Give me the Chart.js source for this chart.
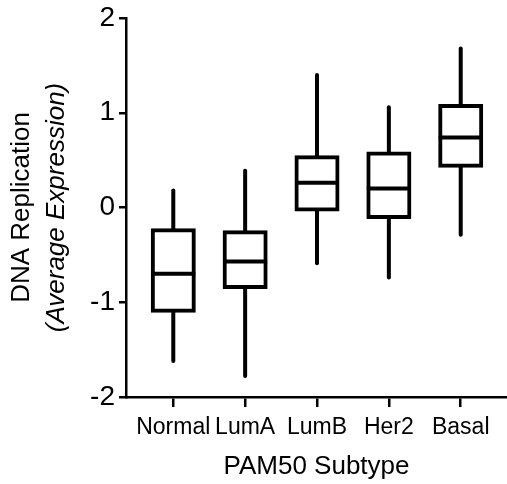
<!DOCTYPE html>
<html>
<head>
<meta charset="utf-8">
<script src="https://cdn.jsdelivr.net/npm/chart.js@4.4.0/dist/chart.umd.min.js"></script>
<style>
    html, body { margin: 0; padding: 0; background: #fff; }
    #wrap { width: 507px; height: 484px; }
</style>
</head>
<body>
<div id="wrap"><canvas id="boxChart"></canvas></div>
<script>
// Du lieu box plot
const subtypes = ['Normal', 'LumA', 'LumB', 'Her2', 'Basal'];
const whiskerLow = [-1.64, -1.80, -0.61, -0.76, -0.31];
const boxLow = [-1.09, -0.84, -0.02, -0.10, 0.44];
const medians = [-0.70, -0.57, 0.26, 0.20, 0.74];
const boxHigh = [-0.24, -0.26, 0.53, 0.57, 1.07];
const whiskerHigh = [0.20, 0.41, 1.42, 1.08, 1.70];
const yTicks = [-2, -1, 0, 1, 2];

const FONT = "'Liberation Sans', Arial, sans-serif";

const ctx = document.getElementById('boxChart').getContext('2d');

new Chart(ctx, {
    type: 'bar',
    data: {
        datasets: [
            {
                // trung vi
                type: 'line',
                data: subtypes.map((s, i) => ({ x: i + 1, y: medians[i] })),
                showLine: false,
                pointStyle: 'line',
                pointRadius: 22,
                pointBorderWidth: 4,
                pointBorderColor: '#000',
                clip: false,
                order: 0
            },
            {
                // hop Q1 - Q3
                data: subtypes.map((s, i) => ({ x: i + 1, y: [boxLow[i], boxHigh[i]] })),
                backgroundColor: '#fff',
                borderColor: '#000',
                borderWidth: 4,
                borderSkipped: false,
                barThickness: 41,
                inflateAmount: 2,
                stack: 'box',
                order: 1
            },
            {
                // rau (min - max)
                data: subtypes.map((s, i) => ({ x: i + 1, y: [whiskerLow[i], whiskerHigh[i]] })),
                backgroundColor: '#000',
                borderWidth: 0,
                borderSkipped: false,
                borderRadius: 2,
                barThickness: 4,
                inflateAmount: 0,
                stack: 'box',
                order: 2
            }
        ]
    },
    options: {
        responsive: true,
        maintainAspectRatio: false,
        animation: false,
        layout: {
            autoPadding: false,
            padding: { top: 15, right: 0, bottom: 0, left: 0 }
        },
        plugins: {
            legend: { display: false },
            tooltip: { enabled: false }
        },
        scales: {
            x: {
                type: 'linear',
                min: 0.342,
                max: 5.644,
                offset: false,
                afterBuildTicks: (scale) => {
                    scale.ticks = subtypes.map((s, i) => ({ value: i + 1 }));
                },
                afterFit: (scale) => { scale.height = 87; },
                ticks: {
                    color: '#000',
                    padding: 7,
                    maxRotation: 0,
                    autoSkip: false,
                    font: { family: FONT, size: 23 },
                    callback: (v) => subtypes[v - 1] || ''
                },
                grid: {
                    display: true,
                    offset: false,
                    drawOnChartArea: false,
                    tickLength: 10,
                    color: '#000',
                    lineWidth: 2.5
                },
                border: { display: true, color: '#000', width: 2.5 },
                title: {
                    display: true,
                    text: 'PAM50 Subtype',
                    color: '#000',
                    font: { family: FONT, size: 26 },
                    padding: { top: 0, bottom: 2 }
                }
            },
            y: {
                min: -2,
                max: 2,
                stacked: false,
                afterBuildTicks: (scale) => {
                    scale.ticks = yTicks.map(v => ({ value: v }));
                },
                afterFit: (scale) => { scale.width = 86; },
                ticks: {
                    color: '#000',
                    padding: 4,
                    font: { family: FONT, size: 28, lineHeight: 1 }
                },
                grid: {
                    display: true,
                    drawOnChartArea: false,
                    tickLength: 7,
                    color: '#000',
                    lineWidth: 2.5
                },
                border: { display: true, color: '#000', width: 2.5 },
                title: {
                    display: true,
                    text: '(Average Expression)',
                    color: '#000',
                    font: { family: FONT, size: 26, style: 'italic' },
                    padding: { top: 1, bottom: 0 }
                }
            },
            // truc phu chi de ve dong tieu de thu nhat
            yTitle: {
                type: 'linear',
                position: 'left',
                weight: 10,
                afterFit: (scale) => { scale.width = 40; },
                ticks: { display: false },
                grid: { display: false },
                border: { display: false },
                title: {
                    display: true,
                    text: 'DNA Replication',
                    color: '#000',
                    font: { family: FONT, size: 26 },
                    padding: { top: 6, bottom: 0 }
                }
            }
        }
    }
});
</script>
</body>
</html>
